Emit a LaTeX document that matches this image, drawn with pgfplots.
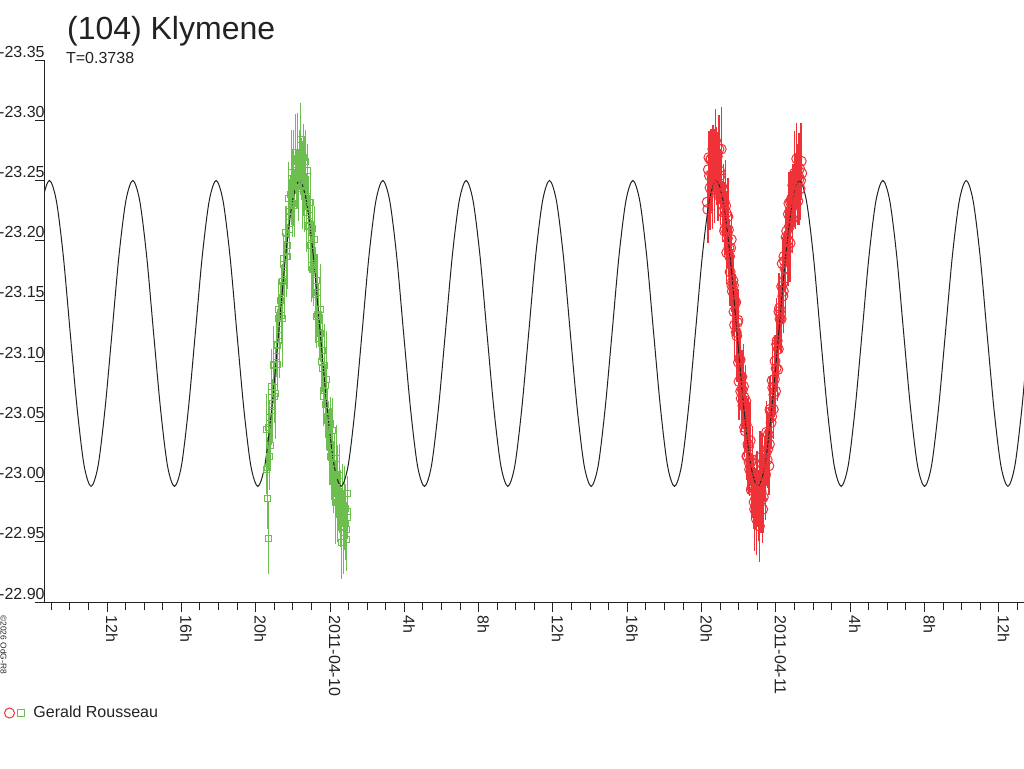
\documentclass[border=0pt]{standalone}
\usepackage{pgfplots}
\pgfplotsset{compat=1.18}
\usepackage{pgfplotstable}
\usepackage{fontspec}
\setmainfont{Liberation Sans}
\definecolor{rd}{HTML}{EE3238}
\definecolor{gr}{HTML}{6CBF4F}
\definecolor{ink}{HTML}{222222}

\pgfplotstableread{
t y e
-3.443 -23.010 0.020
-3.383 -22.986 0.025
-3.323 -22.953 0.030
-3.263 -23.053 0.015
-3.203 -23.030 0.018
-3.143 -23.079 0.012
-3.083 -23.062 0.022
-3.023 -23.096 0.015
-2.963 -23.078 0.020
-2.903 -23.104 0.014
-2.843 -23.097 0.018
-2.783 -23.135 0.012
-2.723 -23.126 0.020
-2.663 -23.150 0.016
-2.603 -23.138 0.024
-2.543 -23.166 0.015
-2.483 -23.185 0.020
-2.423 -23.173 0.012
-2.363 -23.201 0.022
-2.303 -23.196 0.016
-2.243 -23.220 0.018
-2.183 -23.209 0.025
-2.123 -23.238 0.015
-2.063 -23.233 0.020
-2.003 -23.248 0.022
-1.943 -23.245 0.018
-1.883 -23.263 0.024
-1.823 -23.256 0.020
-1.763 -23.266 0.025
-1.703 -23.258 0.018
-1.643 -23.272 0.020
-1.583 -23.265 0.022
-1.523 -23.252 0.018
-1.463 -23.263 0.020
-1.403 -23.241 0.016
-1.343 -23.251 0.024
-1.283 -23.229 0.018
-1.223 -23.237 0.015
-1.163 -23.212 0.020
-1.103 -23.221 0.017
-1.043 -23.196 0.022
-0.983 -23.203 0.014
-0.923 -23.176 0.020
-0.863 -23.178 0.016
-0.803 -23.162 0.018
-0.743 -23.167 0.022
-0.683 -23.139 0.015
-0.623 -23.139 0.020
-0.563 -23.119 0.018
-0.503 -23.123 0.024
-0.443 -23.100 0.016
-0.383 -23.094 0.020
-0.323 -23.076 0.014
-0.263 -23.080 0.018
-0.203 -23.054 0.022
-0.143 -23.053 0.016
-0.083 -23.040 0.020
-0.023 -23.038 0.018
0.037 -23.021 0.024
0.097 -23.020 0.015
0.157 -23.006 0.022
0.217 -23.005 0.018
0.277 -22.993 0.020
0.337 -22.995 0.025
0.397 -22.983 0.018
0.457 -22.987 0.022
0.517 -22.977 0.020
0.577 -22.982 0.024
0.600 -22.949 0.030
0.637 -22.975 0.020
0.697 -22.985 0.018
0.757 -22.968 0.025
0.770 -22.971 0.020
0.817 -22.978 0.020
0.877 -22.960 0.022
0.937 -22.970 0.018
0.950 -22.990 0.015
}\greendata

\pgfplotstableread{
t y e
-3.413 -23.043 0.030
-3.353 -23.012 0.025
-3.293 -23.045 0.035
-3.233 -23.021 0.028
-3.173 -23.070 0.040
-3.113 -23.059 0.026
-3.053 -23.097 0.032
-2.993 -23.071 0.022
-2.933 -23.073 0.038
-2.873 -23.114 0.027
-2.813 -23.113 0.030
-2.753 -23.143 0.025
-2.693 -23.121 0.035
-2.633 -23.152 0.028
-2.573 -23.135 0.040
-2.513 -23.180 0.026
-2.453 -23.168 0.032
-2.393 -23.207 0.022
-2.333 -23.191 0.038
-2.273 -23.187 0.027
-2.213 -23.235 0.030
-2.153 -23.224 0.025
-2.093 -23.257 0.035
-2.033 -23.231 0.028
-1.973 -23.252 0.040
-1.913 -23.229 0.026
-1.853 -23.273 0.032
-1.793 -23.249 0.022
-1.733 -23.268 0.038
-1.673 -23.243 0.027
-1.613 -23.284 0.030
-1.553 -23.260 0.025
-1.493 -23.245 0.035
-1.433 -23.269 0.028
-1.373 -23.247 0.040
-1.313 -23.266 0.026
-1.253 -23.223 0.032
-1.193 -23.258 0.022
-1.133 -23.213 0.038
-1.073 -23.232 0.027
-1.013 -23.179 0.030
-0.953 -23.210 0.025
-0.893 -23.181 0.035
-0.833 -23.201 0.028
-0.773 -23.155 0.040
-0.713 -23.137 0.026
-0.653 -23.157 0.032
-0.593 -23.134 0.022
-0.533 -23.143 0.038
-0.473 -23.100 0.027
-0.413 -23.109 0.030
-0.353 -23.071 0.025
-0.293 -23.096 0.035
-0.233 -23.064 0.028
-0.173 -23.085 0.040
-0.113 -23.051 0.026
-0.053 -23.029 0.032
0.007 -23.048 0.022
0.067 -23.023 0.038
0.127 -23.042 0.027
0.187 -23.004 0.030
0.247 -23.015 0.025
0.307 -22.983 0.035
0.367 -23.019 0.028
0.427 -22.990 0.040
0.487 -23.005 0.026
0.547 -22.978 0.032
0.607 -22.962 0.030
0.667 -22.990 0.025
0.727 -22.958 0.035
0.787 -22.985 0.028
0.847 -22.965 0.030
0.907 -22.952 0.026
0.967 -22.975 0.022
}\greendatab

\pgfplotstableread{
t y e
20.305 -23.232 0.020
20.365 -23.259 0.025
20.425 -23.254 0.018
20.485 -23.267 0.022
20.545 -23.255 0.030
20.605 -23.276 0.020
20.665 -23.266 0.024
20.725 -23.275 0.018
20.785 -23.260 0.022
20.845 -23.270 0.020
20.905 -23.246 0.025
20.965 -23.258 0.016
21.025 -23.235 0.022
21.085 -23.245 0.018
21.145 -23.224 0.020
21.205 -23.233 0.015
21.265 -23.210 0.022
21.325 -23.223 0.018
21.385 -23.202 0.025
21.445 -23.209 0.016
21.505 -23.187 0.020
21.565 -23.194 0.018
21.625 -23.163 0.022
21.685 -23.167 0.015
21.745 -23.141 0.020
21.805 -23.148 0.024
21.865 -23.124 0.016
21.925 -23.132 0.020
21.985 -23.099 0.018
22.045 -23.102 0.025
22.105 -23.075 0.015
22.165 -23.087 0.022
22.225 -23.063 0.018
22.285 -23.070 0.020
22.345 -23.042 0.016
22.405 -23.047 0.024
22.465 -23.021 0.018
22.525 -23.029 0.020
22.585 -23.010 0.022
22.645 -23.016 0.018
22.705 -22.995 0.025
22.765 -23.001 0.020
22.825 -22.983 0.022
22.885 -22.993 0.018
22.945 -22.969 0.030
23.005 -22.986 0.024
23.050 -22.976 0.025
23.110 -22.963 0.030
23.170 -22.991 0.020
23.230 -22.985 0.022
23.290 -22.977 0.028
23.350 -23.005 0.018
23.410 -23.004 0.020
23.470 -23.024 0.016
23.530 -23.018 0.022
23.590 -23.039 0.018
23.650 -23.031 0.020
23.710 -23.058 0.024
23.770 -23.054 0.016
23.830 -23.078 0.020
23.890 -23.072 0.018
23.950 -23.100 0.022
24.010 -23.094 0.015
24.070 -23.117 0.020
24.130 -23.110 0.024
24.190 -23.144 0.018
24.250 -23.139 0.020
24.310 -23.162 0.016
24.370 -23.154 0.022
24.430 -23.187 0.018
24.490 -23.177 0.020
24.550 -23.203 0.025
24.610 -23.193 0.016
24.670 -23.222 0.020
24.730 -23.212 0.018
24.790 -23.232 0.022
24.850 -23.227 0.020
24.910 -23.246 0.018
24.970 -23.235 0.024
25.030 -23.253 0.020
25.090 -23.244 0.016
25.150 -23.260 0.020
25.210 -23.254 0.018
25.270 -23.260 0.015
25.330 -23.250 0.016
25.390 -23.256 0.018
}\reddata

\pgfplotstableread{
t y e
20.335 -23.226 0.028
20.395 -23.269 0.022
20.455 -23.244 0.035
20.515 -23.268 0.025
20.575 -23.240 0.030
20.635 -23.267 0.020
20.695 -23.253 0.038
20.755 -23.283 0.026
20.815 -23.262 0.032
20.875 -23.240 0.024
20.935 -23.276 0.028
20.995 -23.254 0.022
21.055 -23.276 0.035
21.115 -23.224 0.025
21.175 -23.234 0.030
21.235 -23.208 0.020
21.295 -23.229 0.038
21.355 -23.190 0.026
21.415 -23.220 0.032
21.475 -23.194 0.024
21.535 -23.174 0.028
21.595 -23.201 0.022
21.655 -23.158 0.035
21.715 -23.163 0.025
21.775 -23.130 0.030
21.835 -23.149 0.020
21.895 -23.121 0.038
21.955 -23.134 0.026
22.015 -23.083 0.032
22.075 -23.101 0.024
22.135 -23.069 0.028
22.195 -23.076 0.022
22.255 -23.079 0.035
22.315 -23.045 0.025
22.375 -23.067 0.030
22.435 -23.021 0.020
22.495 -23.031 0.038
22.555 -23.016 0.026
22.615 -23.034 0.032
22.675 -22.993 0.024
22.735 -23.018 0.028
22.795 -22.998 0.022
22.855 -22.977 0.035
22.915 -22.986 0.025
22.975 -22.995 0.030
23.080 -22.982 0.028
23.140 -23.020 0.022
23.200 -22.992 0.035
23.260 -23.015 0.025
23.320 -22.987 0.030
23.380 -23.017 0.020
23.440 -23.006 0.038
23.500 -23.041 0.026
23.560 -23.027 0.032
23.620 -23.013 0.024
23.680 -23.060 0.028
23.740 -23.049 0.022
23.800 -23.084 0.035
23.860 -23.060 0.025
23.920 -23.085 0.030
23.980 -23.075 0.020
24.040 -23.114 0.038
24.100 -23.093 0.026
24.160 -23.141 0.032
24.220 -23.135 0.024
24.280 -23.135 0.028
24.340 -23.181 0.022
24.400 -23.158 0.035
24.460 -23.183 0.025
24.520 -23.169 0.030
24.580 -23.208 0.020
24.640 -23.200 0.038
24.700 -23.231 0.026
24.760 -23.198 0.032
24.820 -23.234 0.024
24.880 -23.218 0.028
24.940 -23.240 0.022
25.000 -23.256 0.035
25.060 -23.235 0.025
25.120 -23.268 0.030
25.180 -23.233 0.020
25.240 -23.251 0.038
25.300 -23.243 0.026
25.360 -23.266 0.032
}\reddatab

\begin{document}
\begin{tikzpicture}
\begin{axis}[
  scale only axis, width=489.5pt, height=271pt,
  xmin=-15.339, xmax=37.352, ymin=-23.35, ymax=-22.90, y dir=reverse,
  axis x line=bottom, axis y line=left,
  axis line style={-, ink, line width=0.5pt},
  tick align=outside, major tick length=5pt, minor tick length=4pt,
  every tick/.style={ink, line width=0.5pt},
  xtick={-12,-8,-4,0,4,8,12,16,20,24,28,32,36},
  xticklabels={12h,16h,20h,2011-04-10,4h,8h,12h,16h,20h,2011-04-11,4h,8h,12h},
  minor xtick={-15,-14,...,37},
  ytick={-23.35,-23.30,-23.25,-23.20,-23.15,-23.10,-23.05,-23.00,-22.95,-22.90},
  yticklabels={-23.35,-23.30,-23.25,-23.20,-23.15,-23.10,-23.05,-23.00,-22.95,-22.90},
  xticklabel style={rotate=-90, anchor=base west, inner sep=0pt, text=ink, font=\fontsize{8}{9.6}\selectfont, xshift=1.5pt, yshift=-0.5pt},
  yticklabel style={anchor=base east, inner sep=0pt, text=ink, font=\fontsize{8}{9.6}\selectfont, xshift=5pt, yshift=1.5pt},
  legend style={at={(axis description cs:-0.04188,-0.2048)}, anchor=west, draw=none, fill=none, inner sep=0pt, outer sep=0pt, font=\fontsize{8}{9.6}\selectfont, text=ink, nodes={inner sep=0pt}},
  legend cell align=left,
]
\addplot[only marks, mark=square, mark size=1.5pt, color=gr, mark options={line width=0.5pt, fill=none}, forget plot,
  error bars/.cd, y dir=both, y explicit, error bar style={line width=0.5pt, gr}, error mark=none]
  table[x=t, y=y, y error=e]{\greendatab};
\addplot[only marks, mark=square, mark size=1.5pt, color=gr, mark options={line width=0.5pt, fill=none}, forget plot,
  error bars/.cd, y dir=both, y explicit, error bar style={line width=0.5pt, gr}, error mark=none]
  table[x=t, y=y, y error=e]{\greendata};
\addplot[only marks, mark=o, mark size=2.5pt, color=rd, mark options={line width=0.5pt, fill=none}, forget plot,
  error bars/.cd, y dir=both, y explicit, error bar style={line width=0.7pt, rd}, error mark=none]
  table[x=t, y=y, y error=e]{\reddatab};
\addplot[only marks, mark=o, mark size=2.5pt, color=rd, mark options={line width=0.5pt, fill=none},
  legend image code/.code={
    \draw[rd, line width=0.5pt] (2.5pt,0pt) circle (2.5pt);
    \draw[gr, line width=0.5pt] (6.75pt,-1.75pt) rectangle (10.25pt,1.75pt);
    \path[draw=none, fill=none] (0pt,-0.1pt) rectangle (14.5pt,0.1pt);
  },
  error bars/.cd, y dir=both, y explicit, error bar style={line width=0.7pt, rd}, error mark=none]
  table[x=t, y=y, y error=e]{\reddata};
\addlegendentry{Gerald Rousseau}
\addplot[ink, line width=0.5pt, smooth, no marks, forget plot] coordinates {
(-15.848,-23.187) (-15.474,-23.233)
(-15.100,-23.250) (-14.726,-23.233) (-14.352,-23.187) (-13.979,-23.123) (-13.605,-23.060) (-13.231,-23.013) (-12.857,-22.996) (-12.483,-23.013) (-12.110,-23.060) (-11.736,-23.123) (-11.362,-23.187) (-10.988,-23.233)
(-10.614,-23.250) (-10.240,-23.233) (-9.866,-23.187) (-9.493,-23.123) (-9.119,-23.060) (-8.745,-23.013) (-8.371,-22.996) (-7.997,-23.013) (-7.624,-23.060) (-7.250,-23.123) (-6.876,-23.187) (-6.502,-23.233)
(-6.129,-23.250) (-5.755,-23.233) (-5.381,-23.187) (-5.008,-23.123) (-4.634,-23.060) (-4.260,-23.013) (-3.886,-22.996) (-3.512,-23.013) (-3.139,-23.060) (-2.765,-23.123) (-2.391,-23.187) (-2.017,-23.233)
(-1.643,-23.250) (-1.269,-23.233) (-0.895,-23.187) (-0.522,-23.123) (-0.148,-23.060) (0.226,-23.013) (0.600,-22.996) (0.974,-23.013) (1.347,-23.060) (1.721,-23.123) (2.095,-23.187) (2.469,-23.233)
(2.842,-23.250) (3.216,-23.233) (3.590,-23.187) (3.963,-23.123) (4.337,-23.060) (4.711,-23.013) (5.085,-22.996) (5.459,-23.013) (5.832,-23.060) (6.206,-23.123) (6.580,-23.187) (6.954,-23.233)
(7.328,-23.250) (7.702,-23.233) (8.076,-23.187) (8.449,-23.123) (8.823,-23.060) (9.197,-23.013) (9.571,-22.996) (9.945,-23.013) (10.318,-23.060) (10.692,-23.123) (11.066,-23.187) (11.440,-23.233)
(11.814,-23.250) (12.188,-23.233) (12.562,-23.187) (12.935,-23.123) (13.309,-23.060) (13.683,-23.013) (14.057,-22.996) (14.431,-23.013) (14.804,-23.060) (15.178,-23.123) (15.552,-23.187) (15.926,-23.233)
(16.299,-23.250) (16.673,-23.233) (17.047,-23.187) (17.420,-23.123) (17.794,-23.060) (18.168,-23.013) (18.542,-22.996) (18.916,-23.013) (19.289,-23.060) (19.663,-23.123) (20.037,-23.187) (20.411,-23.233)
(20.785,-23.250) (21.159,-23.233) (21.533,-23.187) (21.906,-23.123) (22.280,-23.060) (22.654,-23.013) (23.028,-22.996) (23.402,-23.013) (23.775,-23.060) (24.149,-23.123) (24.523,-23.187) (24.897,-23.233)
(25.270,-23.250) (25.644,-23.233) (26.018,-23.187) (26.391,-23.123) (26.765,-23.060) (27.139,-23.013) (27.513,-22.996) (27.887,-23.013) (28.260,-23.060) (28.634,-23.123) (29.008,-23.187) (29.382,-23.233)
(29.756,-23.250) (30.130,-23.233) (30.504,-23.187) (30.877,-23.123) (31.251,-23.060) (31.625,-23.013) (31.999,-22.996) (32.373,-23.013) (32.746,-23.060) (33.120,-23.123) (33.494,-23.187) (33.868,-23.233)
(34.242,-23.250) (34.616,-23.233) (34.990,-23.187) (35.363,-23.123) (35.737,-23.060) (36.111,-23.013) (36.485,-22.996) (36.859,-23.013) (37.232,-23.060) (37.606,-23.123) (37.980,-23.187) (38.354,-23.233)
(38.727,-23.250)
};
\end{axis}
\node[anchor=base west, inner sep=0pt, text=ink, font=\fontsize{16}{19}\selectfont] at (10.85pt,281.25pt) {(104) Klymene};
\node[anchor=base west, inner sep=0pt, text=ink, font=\fontsize{8}{9.6}\selectfont] at (10.35pt,269.35pt) {T=0.3738};
\node[rotate=-90, anchor=base west, inner sep=0pt, text=ink, font=\fontsize{4.2}{5}\selectfont] at (-22.2pt,-6.5pt) {©2026 OdG-R8};
\pgfresetboundingbox
\path[use as bounding box] (-22.5pt,-83pt) rectangle (489.5pt,301pt);
\end{tikzpicture}
\end{document}
